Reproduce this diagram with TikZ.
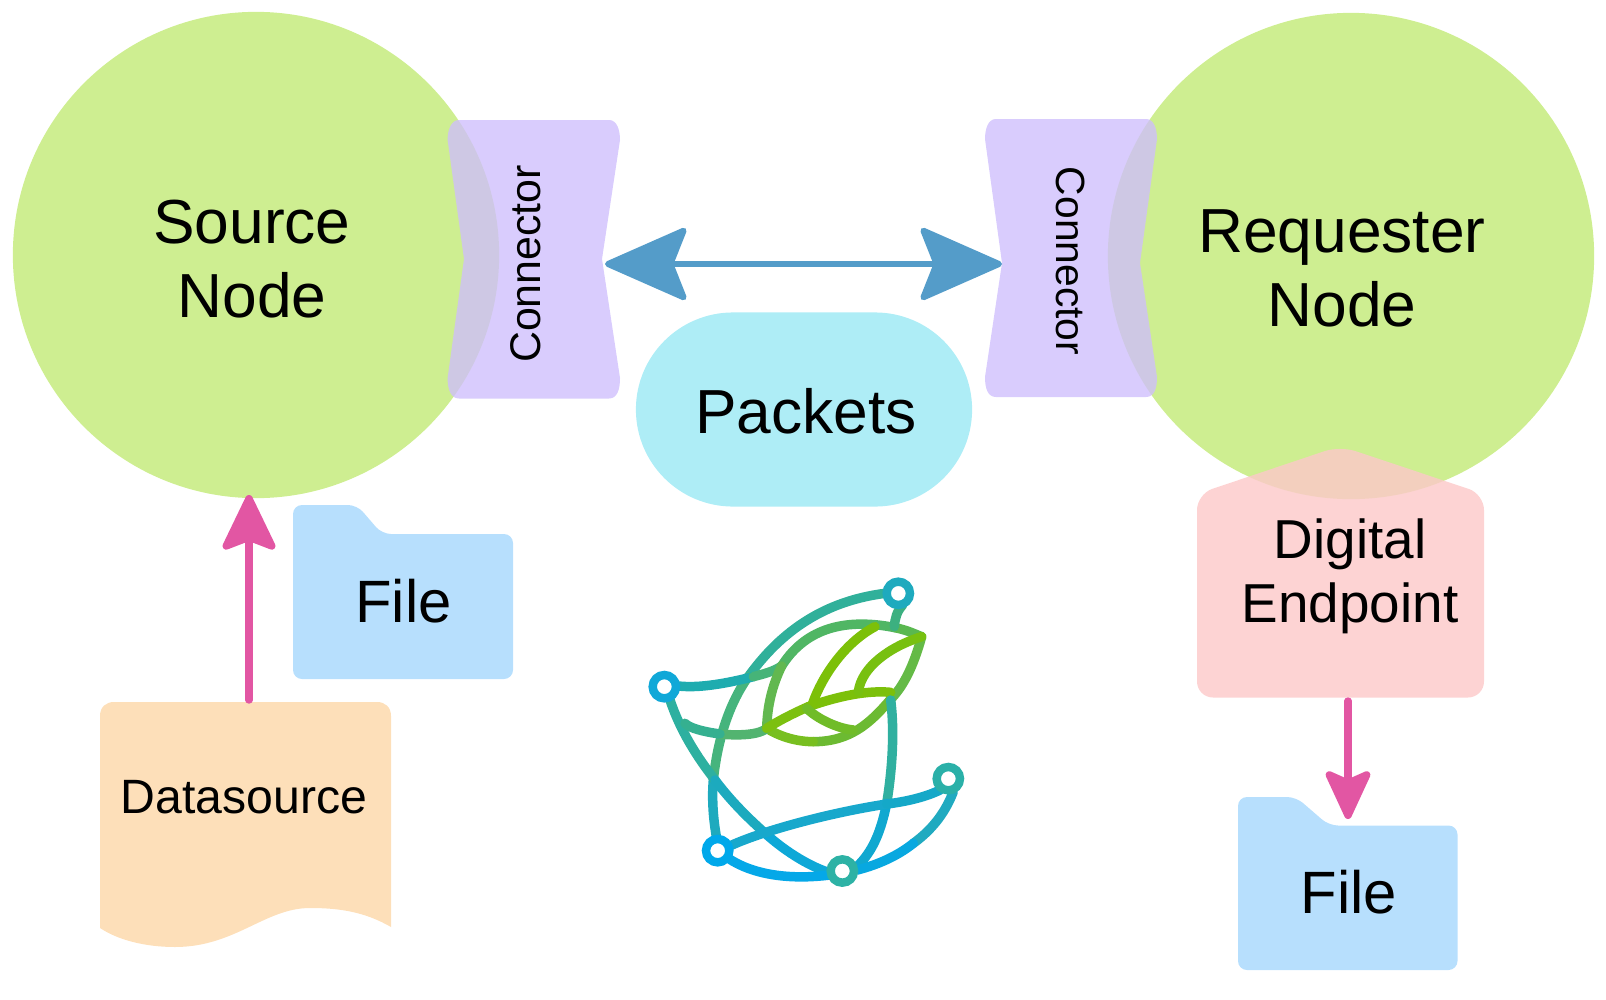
\documentclass[tikz,border=0pt]{standalone}
\usepackage{fontspec}
\setmainfont{Liberation Sans}
\usetikzlibrary{arrows.meta,shapes.misc}
\definecolor{nodegreen}{HTML}{CEEE91}
\definecolor{connviolet}{HTML}{CEBEFC}
\definecolor{packcyan}{HTML}{AEEDF6}
\definecolor{endpink}{HTML}{FCC9C9}
\definecolor{dataorange}{HTML}{FDDFB9}
\definecolor{fileblue}{HTML}{B7DFFD}
\definecolor{arrowpink}{HTML}{E256A3}
\definecolor{arrowblue}{HTML}{549CC9}
\tikzset{
	bigtext/.style={font=\fontsize{17.7}{21}\selectfont,align=center,inner sep=0pt},
	midtext/.style={font=\fontsize{15.6}{18.2}\selectfont,align=center,inner sep=0pt},
	peernode/.style={circle,fill=nodegreen,minimum size=4.86cm,inner sep=0pt},
	connbox/.style={fill=connviolet,fill opacity=0.78},
	filebox/.style={fill=fileblue,rounded corners=0.9mm},
	flowarrow/.style 2 args={arrowpink,line width=2.1pt,line cap=round,-{Stealth[length=#1,width=#2,inset=1.1mm,round]}},
	packarrow/.style={arrowblue,line width=1.7pt,{Stealth[length=8.8mm,width=7.7mm,inset=1.5mm,round]}-{Stealth[length=8.8mm,width=7.7mm,inset=1.5mm,round]}},
	logoline/.style={line width=2.7pt,line cap=round}
}
\begin{document}
\begin{tikzpicture}[x=0.01cm,y=-0.01cm]
	\useasboundingbox (0,0) rectangle (1606,1000);
	% peers
	\node[peernode] (source) at (256,255) {};
	\node[peernode] (requester) at (1351,256) {};
	\node[bigtext] (sourcename) at (252,259) {Source\\Node};
	\node[bigtext] (requestername) at (1342,268) {Requester\\Node};
	% connectors
	\fill[connbox] (459,120) -- (609,120) .. controls (617,120) and (620,130) .. (620,140) -- (602,259) -- (620,378) .. controls (620,390) and (617,398.5) .. (609,398.5) -- (459,398.5) .. controls (451,398.5) and (447.6,390) .. (447.6,378) -- (464,259) -- (447.6,140) .. controls (447.6,130) and (451,120) .. (459,120) -- cycle;
	\fill[connbox] (996,119) -- (1146,119) .. controls (1154,119) and (1157,129) .. (1157,139) -- (1140,263) -- (1157,377) .. controls (1157,389) and (1154,397) .. (1146,397) -- (996,397) .. controls (988,397) and (985,389) .. (985,377) -- (1002,263) -- (985,139) .. controls (985,129) and (988,119) .. (996,119) -- cycle;
	\node[font=\fontsize{12.2}{14}\selectfont,inner sep=0pt,rotate=90] (connleft) at (526,264) {Connector};
	\node[font=\fontsize{11.6}{14}\selectfont,inner sep=0pt,rotate=-90] (connright) at (1071,261) {Connector};
	\coordinate (leftwaist) at (605,264);
	\coordinate (rightwaist) at (1002,264);
	\draw[packarrow] (leftwaist) -- (rightwaist);
	% packets
	\node[rounded rectangle,fill=packcyan,minimum width=3.36cm,minimum height=1.94cm,inner sep=0pt] (packets) at (804,409.5) {};
	\node[bigtext] (packetsname) at (806,411) {Packets};
	% left column
	\fill[filebox] (293,679) -- (293,505) -- (357,505) -- (382,534) -- (513,534) -- (513,679) -- cycle;
	\node[bigtext,font=\fontsize{17}{20}\selectfont] (fileleft) at (403.5,601) {File};
	\fill[dataorange] (100,716) .. controls (100,707) and (106,702) .. (114,702) -- (377,702) .. controls (385,702) and (391,707) .. (391,716) -- (391,927) .. controls (365,912) and (340,908) .. (310,908) .. controls (265,908) and (235,947) .. (175,947) .. controls (145,947) and (118,940) .. (100,928) -- cycle;
	\node[font=\fontsize{13.7}{16}\selectfont,inner sep=0pt] (datasource) at (244,797) {Datasource};
	\coordinate (datatop) at (249,700);
	\coordinate (datahead) at (249,495);
	\draw[flowarrow={6.2mm}{5.9mm}] (datatop) -- (datahead);
	% right column
	\fill[endpink,fill opacity=0.82,rounded corners=1.6mm] (1197,697.5) -- (1197,494) -- (1340,446) -- (1484,494) -- (1484,697.5) -- cycle;
	\node[midtext] (endpoint) at (1350,576) {Digital\\Endpoint};
	\fill[filebox] (1238,970) -- (1238,797) -- (1296,797) -- (1329,825.5) -- (1457.5,825.5) -- (1457.5,970) -- cycle;
	\node[bigtext,font=\fontsize{17}{20}\selectfont] (fileright) at (1349,892) {File};
	\coordinate (endbottom) at (1348,701);
	\coordinate (filetop) at (1348,819);
	\draw[flowarrow={5.6mm}{5.1mm}] (endbottom) -- (filetop);
	% logo
	\begin{scope}[shift={(620,560)},scale=1/3,logoline]
		\draw[color={rgb,255:red,48;green,176;blue,154}] (795,100) .. controls (640,120) and (500,190) .. (385,350);
		\draw[color={rgb,255:red,70;green,180;blue,125}] (385,350) .. controls (320,440) and (290,560) .. (280,660);
		\draw[color={rgb,255:red,30;green,170;blue,190}] (280,660) .. controls (275,720) and (280,780) .. (290,835);
		\draw[color={rgb,255:red,45;green,176;blue,160}] (150,420) .. controls (180,510) and (230,590) .. (285,660);
		\draw[color={rgb,255:red,28;green,170;blue,190}] (285,660) .. controls (330,720) and (380,770) .. (430,815);
		\draw[color={rgb,255:red,14;green,168;blue,215}] (430,815) .. controls (490,870) and (560,915) .. (625,937);
		\draw[color={rgb,255:red,30;green,172;blue,175}] (175,378) .. controls (240,385) and (320,370) .. (400,350);
		\draw[color={rgb,255:red,70;green,180;blue,120}] (400,350) .. controls (430,342) and (460,335) .. (485,318);
		\draw[color={rgb,255:red,80;green,182;blue,100}] (485,318) .. controls (550,215) and (660,170) .. (825,203);
		\draw[color={rgb,255:red,90;green,184;blue,80}] (825,203) .. controls (860,210) and (880,220) .. (905,230);
		\draw[color={rgb,255:red,100;green,186;blue,70}] (905,230) .. controls (880,320) and (850,380) .. (810,420);
		\draw[color={rgb,255:red,108;green,186;blue,50}] (810,420) .. controls (750,490) and (690,545) .. (580,545);
		\draw[color={rgb,255:red,120;green,191;blue,32}] (580,545) .. controls (530,545) and (480,530) .. (440,505);
		\draw[color={rgb,255:red,82;green,180;blue,112}] (440,505) .. controls (410,530) and (330,525) .. (300,522);
		\draw[color={rgb,255:red,53;green,176;blue,144}] (300,522) .. controls (250,515) and (210,505) .. (195,490);
		\draw[color={rgb,255:red,98;green,184;blue,80}] (485,318) .. controls (455,380) and (442,440) .. (440,505);
		\draw[color={rgb,255:red,124;green,192;blue,16}] (440,505) .. controls (480,480) and (520,460) .. (565,440);
		\draw[color={rgb,255:red,124;green,192;blue,10}] (565,440) .. controls (650,410) and (740,390) .. (812,397);
		\draw[color={rgb,255:red,124;green,192;blue,8}] (578,430) .. controls (610,340) and (680,245) .. (765,200);
		\draw[color={rgb,255:red,120;green,192;blue,16}] (715,395) .. controls (725,320) and (810,260) .. (905,230);
		\draw[color={rgb,255:red,112;green,188;blue,40}] (560,445) .. controls (590,475) and (650,505) .. (700,510);
		\draw[color={rgb,255:red,60;green,176;blue,128}] (848,135) .. controls (830,155) and (825,175) .. (823,200);
		\draw[color={rgb,255:red,48;green,176;blue,160}] (812,420) .. controls (825,520) and (815,640) .. (800,730);
		\draw[color={rgb,255:red,16;green,168;blue,208}] (800,730) .. controls (780,830) and (750,885) .. (705,925);
		\draw[color={rgb,255:red,24;green,168;blue,204}] (325,860) .. controls (420,815) and (620,760) .. (800,732);
		\draw[color={rgb,255:red,21;green,168;blue,200}] (800,732) .. controls (860,725) and (920,710) .. (960,690);
		\draw[color={rgb,255:red,5;green,168;blue,232}] (325,895) .. controls (400,945) and (510,960) .. (630,945);
		\draw[color={rgb,255:red,32;green,170;blue,192}] (1000,695) .. controls (975,760) and (935,810) .. (880,850);
		\draw[color={rgb,255:red,8;green,168;blue,224}] (880,850) .. controls (830,890) and (770,915) .. (712,930);
		\foreach \hubx/\huby/\hubr/\hubg/\hubb in {835/100/30/170/190,133/380/16/168/216,985/656/42/176/168,293/872/0/168/234,667/933/45/178/165}
			\draw[color={rgb,255:red,\hubr;green,\hubg;blue,\hubb},fill=white,line width=2.4pt] (\hubx,\huby) circle (35);
	\end{scope}
\end{tikzpicture}
\end{document}
